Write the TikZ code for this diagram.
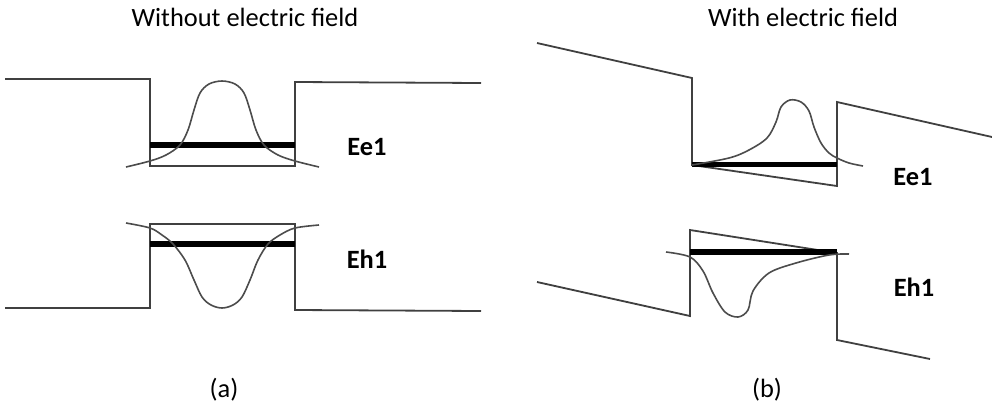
\documentclass[tikz,border=0pt]{standalone}
\usepackage{fontspec}
\setmainfont{Carlito}
\begin{document}
\begin{tikzpicture}[x=0.5pt,y=-0.5pt,
band/.style={black!75,line width=0.9pt},
lvl/.style={line width=2.6pt},
wave/.style={black!70,line width=0.8pt,smooth,tension=0.55},
ttl/.style={font=\fontsize{13.2}{16}\selectfont,anchor=base,inner sep=0pt},
lbl/.style={font=\fontsize{13.2}{16}\selectfont\bfseries,inner sep=0pt}]
\useasboundingbox(0,0)rectangle(992,408);
% (a) without field
\draw[band](5,79)--(150,79)--(150,166)--(295,166)--(295,82)--(481,83);
\draw[band](5,308)--(150,308)--(150,224)--(295,224)--(295,310)--(481,311);
\draw[lvl](150,145)--(295,145)(150,244)--(295,244);
\draw[wave]plot coordinates{(126,167)(150,161)(166,155)(180,145)(188,130)(194,110)(200,93)(209,84)(222,81)(235,84)(244,93)(250,110)(256,130)(264,145)(278,155)(295,161)(319,167)};
\draw[wave]plot coordinates{(126,223)(150,228)(162,235)(173,244)(185,260)(194,280)(202,297)(211,305)(222,308)(233,305)(242,297)(250,280)(258,260)(268,244)(280,235)(295,228)(319,225)};
\node[lbl](ee1a)at(367,147){Ee1};
\node[lbl](eh1a)at(367,259){Eh1};
\node[ttl](ttla)at(245,26){Without electric field};
\node[ttl](capa)at(224,397){(a)};
% (b) with field
\draw[band](537,43)--(692,78)--(692,165)--(837,186)--(837,102)--(992,137);
\draw[band](537,282)--(690,316)--(690,230)--(837,253)--(837,340)--(930,359);
\draw[lvl](692,164.5)--(837,164.5)(690,252)--(837,252);
\draw[wave]plot coordinates{(692,165)(729,158)(749,150)(767,138)(776,122)(781,107)(790,100)(801,102)(809,111)(814,127)(821,143)(829,153)(837,158)(849,163)(863,166)};
\draw[wave]plot coordinates{(666,252)(690,257)(703,271)(713,293)(725,312)(738,317)(748,310)(753,291)(769,273)(796,263)(829,255)(849,254)};
\node[lbl](ee1b)at(913,177){Ee1};
\node[lbl](eh1b)at(914,287){Eh1};
\node[ttl](ttlb)at(803,26){With electric field};
\node[ttl](capb)at(767,397){(b)};
\end{tikzpicture}
\end{document}
